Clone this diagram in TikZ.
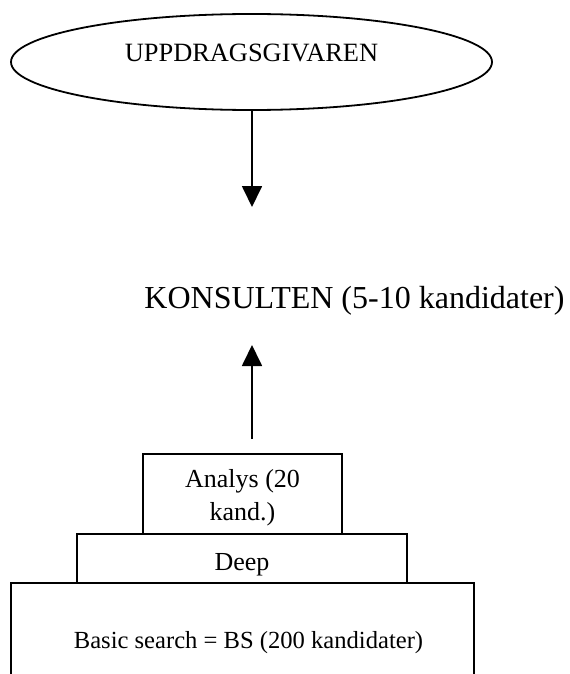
\documentclass[tikz,border=0pt]{standalone}
\usepackage{fontspec}
\setmainfont{Liberation Serif}
\usetikzlibrary{shapes.geometric, arrows.meta}
\begin{document}
\begin{tikzpicture}[x=0.5pt, y=-0.5pt,
		box/.style={draw, line width = 0.9pt, inner sep = 0pt, align=center, font=\fontsize{13}{16.5}\selectfont},
		arr/.style={-{Triangle[width=10pt, length=10.5pt]}, line width = 0.9pt}]
		\useasboundingbox (0,0) rectangle (569,674);
		\clip (0,0) rectangle (569,674);

		\node[draw, ellipse, line width = 0.9pt, inner sep = 0pt, minimum width = 240.5pt, minimum height = 48pt, text depth = 9.5pt, font=\fontsize{13.2}{15}\selectfont] at (251.5,62) (ugiv) {UPPDRAGSGIVAREN};
		\coordinate (uTip) at (252,207);
		\draw[arr] (ugiv.south -| uTip) -- (uTip);

		\node[font=\fontsize{16}{19}\selectfont, text depth = 0pt] at (354.5,297) (kons) {KONSULTEN (5-10 kandidater)};
		\coordinate (kTip) at (252,345);

		\node[box, minimum width = 99.5pt, minimum height = 40pt] at (242.5,494) (analys) {\rule{0pt}{13pt}Analys (20\\kand.)};
		\node[box, minimum width = 165pt, minimum height = 24.5pt, text height = 11.6pt, text depth = 0pt] at (242,558.5) (deep) {Deep};
		\node[box, minimum width = 231.5pt, minimum height = 57pt, text depth = 0pt, font=\fontsize{12.3}{15}\selectfont] at (242.5,640) (basic) {\hspace{6pt}Basic search = BS (200 kandidater)};

		\draw[arr, shorten <= 7pt] (analys.north -| kTip) -- (kTip);
	\end{tikzpicture}
\end{document}
